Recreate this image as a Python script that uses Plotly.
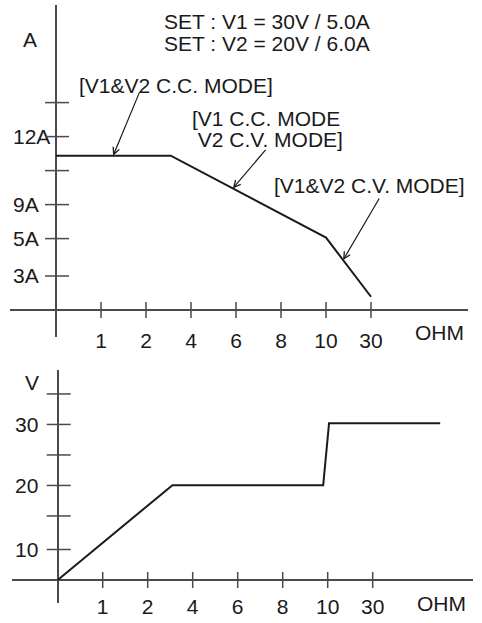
import numpy as np
import plotly.graph_objects as go

# ---------------- data (axis units: x = category slot, y = tick slot) ----------------
ohm_ticks = [1, 2, 3, 4, 5, 6, 7]
ohm_labels = ["1", "2", "4", "6", "8", "10", "30"]

amp_tick_pos = [1.0, 2.1, 3.1, 4.1, 5.1, 6.1]
amp_tick_labels = ["3A", "5A", "9A", "", "12A", ""]

volt_tick_pos = [1.0, 2.1, 3.1, 4.1, 5.1, 6.1]
volt_tick_labels = ["10", "", "20", "", "30", ""]

# current vs. load
cur_x = [0.0, 2.55, 6.0, 7.0]
cur_y = [4.54, 4.54, 2.13, 0.39]

# voltage vs. load
volt_x = [0.0, 2.55, 5.9, 6.03, 8.5]
volt_y = [0.0, 3.11, 3.11, 5.14, 5.14]

# annotation arrows on current curve (x position of tip)
arrow_tip_x = [1.27, 3.93, 6.38]
arrow_tail_px = [(27, -65), (34, -40), (37, -63)]

# ---------------- layout geometry (pixels) ----------------
W, H = 482, 623
FONT = "Liberation Sans, Arial, sans-serif"
INK = "#1a1a1a"
AX = "#4a4a4a"


def fx(px):
    return px / W


def fy(py):
    return 1 - py / H


# top panel: plot box left/right/top/bottom, origin px, unit px
T = dict(l=10, r=468, t=5, b=337, ox=56, oy=310, ux=45, uy=34)
B = dict(l=12, r=473, t=370, b=603, ox=57.7, oy=580, ux=45, uy=30.5)


def xr(P):
    return [-(P["ox"] - P["l"]) / P["ux"], (P["r"] - P["ox"]) / P["ux"]]


def yr(P):
    return [-(P["b"] - P["oy"]) / P["uy"], (P["oy"] - P["t"]) / P["uy"]]


fig = go.Figure()
fig.add_trace(go.Scatter(x=cur_x, y=cur_y, mode="lines", line=dict(color=INK, width=2),
                         xaxis="x", yaxis="y", hoverinfo="skip", showlegend=False))
fig.add_trace(go.Scatter(x=volt_x, y=volt_y, mode="lines", line=dict(color=INK, width=2),
                         xaxis="x2", yaxis="y2", hoverinfo="skip", showlegend=False))

tickfont = dict(family=FONT, size=21, color=INK)
common_x = dict(showgrid=False, showline=False, zeroline=True, zerolinecolor=AX, zerolinewidth=1.5,
                tickmode="array", tickvals=ohm_ticks, ticktext=ohm_labels, ticks="",
                tickfont=tickfont, ticklabelstandoff=-11, fixedrange=True)
common_y = dict(showgrid=False, showline=False, zeroline=True, zerolinecolor=AX, zerolinewidth=1.5,
                tickmode="array", ticks="", ticklabelposition="inside", tickfont=tickfont,
                fixedrange=True)

fig.update_layout(
    width=W, height=H, margin=dict(l=0, r=0, t=0, b=0),
    paper_bgcolor="white", plot_bgcolor="white", showlegend=False,
    xaxis=dict(common_x, domain=[fx(T["l"]), fx(T["r"])], range=xr(T), anchor="y"),
    yaxis=dict(common_y, domain=[fy(T["b"]), fy(T["t"])], range=yr(T), anchor="x",
               tickvals=amp_tick_pos, ticktext=amp_tick_labels),
    xaxis2=dict(common_x, domain=[fx(B["l"]), fx(B["r"])], range=xr(B), anchor="y2"),
    yaxis2=dict(common_y, domain=[fy(B["b"]), fy(B["t"])], range=yr(B), anchor="x2",
                tickvals=volt_tick_pos, ticktext=volt_tick_labels),
)

shapes = []
for xa, ya, ytp in (("x", "y", amp_tick_pos), ("x2", "y2", volt_tick_pos)):
    for v in ytp:
        shapes.append(dict(type="line", xref=xa, yref=ya, xsizemode="pixel", xanchor=0,
                           x0=-11, x1=13, y0=v, y1=v, line=dict(color=AX, width=1.5)))
    for v in ohm_ticks:
        shapes.append(dict(type="line", xref=xa, yref=ya, ysizemode="pixel", yanchor=0,
                           y0=-8, y1=8, x0=v, x1=v, line=dict(color=AX, width=1.5)))
fig.update_layout(shapes=shapes)

anns = []


def txt(s, x, y, xanchor="left", size=21):
    anns.append(dict(text=s, x=fx(x), y=fy(y), xref="paper", yref="paper", showarrow=False,
                     xanchor=xanchor, yanchor="middle",
                     font=dict(family=FONT, size=size, color=INK)))


txt("SET : V1 = 30V / 5.0A", 162, 22)
txt("SET : V2 = 20V / 6.0A", 162, 43)
txt("[V1&V2 C.C. MODE]", 77, 86)
txt("[V1 C.C. MODE", 190, 118)
txt(" V2 C.V. MODE]", 190, 139)
txt("[V1&V2 C.V. MODE]", 272, 185)
txt("A", 30, 40, "center")
txt("V", 32, 382, "center")
txt("OHM", 439, 332, "center")
txt("OHM", 441, 603, "center")

tip_y = np.interp(arrow_tip_x, cur_x, cur_y)
for xt, yt, (ax, ay) in zip(arrow_tip_x, tip_y, arrow_tail_px):
    anns.append(dict(text="", x=xt, y=float(yt), xref="x", yref="y", showarrow=True,
                     ax=ax, ay=ay, arrowhead=5, arrowsize=1.1, arrowwidth=1.2,
                     arrowcolor=INK, standoff=0, startstandoff=0))
fig.update_layout(annotations=anns)

fig.write_html("out.html", config={"displayModeBar": False},
               post_script="document.body.style.margin='0';document.body.style.overflow='hidden';")
